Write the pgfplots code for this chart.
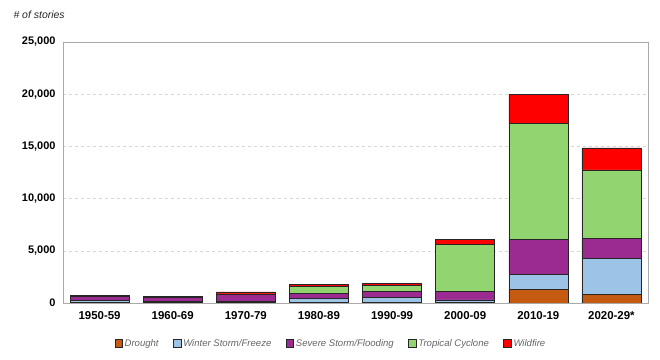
\documentclass[border=0pt]{standalone}
\usepackage{pgfplots}
\pgfplotsset{compat=1.18}
\usepackage{fontspec}
\setmainfont{Liberation Sans}
\definecolor{cDrought}{RGB}{197,90,17}
\definecolor{cWinter}{RGB}{157,195,230}
\definecolor{cSevere}{RGB}{155,42,145}
\definecolor{cTrop}{RGB}{146,212,112}
\definecolor{cFire}{RGB}{255,0,0}
\definecolor{cAxis}{RGB}{170,170,170}
\definecolor{cGrid}{RGB}{215,215,215}
\definecolor{cLeg}{RGB}{100,100,100}
\begin{document}
\begin{tikzpicture}
\path[use as bounding box] (0,0) rectangle (660bp,360bp);
\begin{axis}[
  at={(63bp,57bp)}, anchor=south west,
  scale only axis, width=585bp, height=261bp,
  ybar stacked, bar width=59bp,
  xmin=-0.5, xmax=7.5, ymin=0, ymax=25000,
  xtick={0,...,7},
  xticklabels={1950-59,1960-69,1970-79,1980-89,1990-99,2000-09,2010-19,2020-29*},
  ytick={0,5000,...,25000},
  scaled y ticks=false,
  /pgf/number format/1000 sep={,},
  /pgf/number format/assume math mode=true,
  ticklabel style={font=\bfseries\fontsize{11}{13}\selectfont},
  xticklabel style={yshift=-5bp, font=\bfseries\fontsize{11.5}{13}\selectfont},
  yticklabel style={xshift=-4bp},
  major tick length=0pt,
  axis line style={draw=cAxis, line width=0.6pt},
  ymajorgrids, grid style={dashed, cGrid, line width=0.5pt},
  every axis plot/.append style={draw=black!85, line width=0.6pt,
    legend image code/.code={\draw[##1, line width=0.5pt] (0bp,-3.8bp) rectangle (7.6bp,3.8bp);}},
  legend columns=5,
  legend style={at={(0.458,-0.155)}, anchor=center, draw=none, fill=none,
    font=\itshape\fontsize{9.6}{11}\selectfont, text=cLeg,
    /tikz/every even column/.append style={column sep=12.5bp},
    /tikz/every odd column/.append style={column sep=0bp},
    nodes={inner xsep=2bp}},
]
\addplot[fill=cDrought] coordinates {(0,20) (1,20) (2,20) (3,50) (4,50) (5,30) (6,1310) (7,830)};
\addplot[fill=cWinter] coordinates {(0,230) (1,150) (2,100) (3,400) (4,450) (5,270) (6,1440) (7,3450)};
\addplot[fill=cSevere] coordinates {(0,370) (1,350) (2,700) (3,450) (4,600) (5,800) (6,3320) (7,1920)};
\addplot[fill=cTrop] coordinates {(0,100) (1,40) (2,50) (3,700) (4,550) (5,4550) (6,11110) (7,6540)};
\addplot[fill=cFire] coordinates {(0,40) (1,70) (2,200) (3,200) (4,200) (5,480) (6,2820) (7,2110)};
\legend{Drought, Winter Storm/Freeze, Severe Storm/Flooding, Tropical Cyclone, Wildfire}
\end{axis}
\node[anchor=west, font=\itshape\fontsize{10.5}{12}\selectfont, text=black!85] at (10bp,345bp) {\# of stories};
\end{tikzpicture}
\end{document}
